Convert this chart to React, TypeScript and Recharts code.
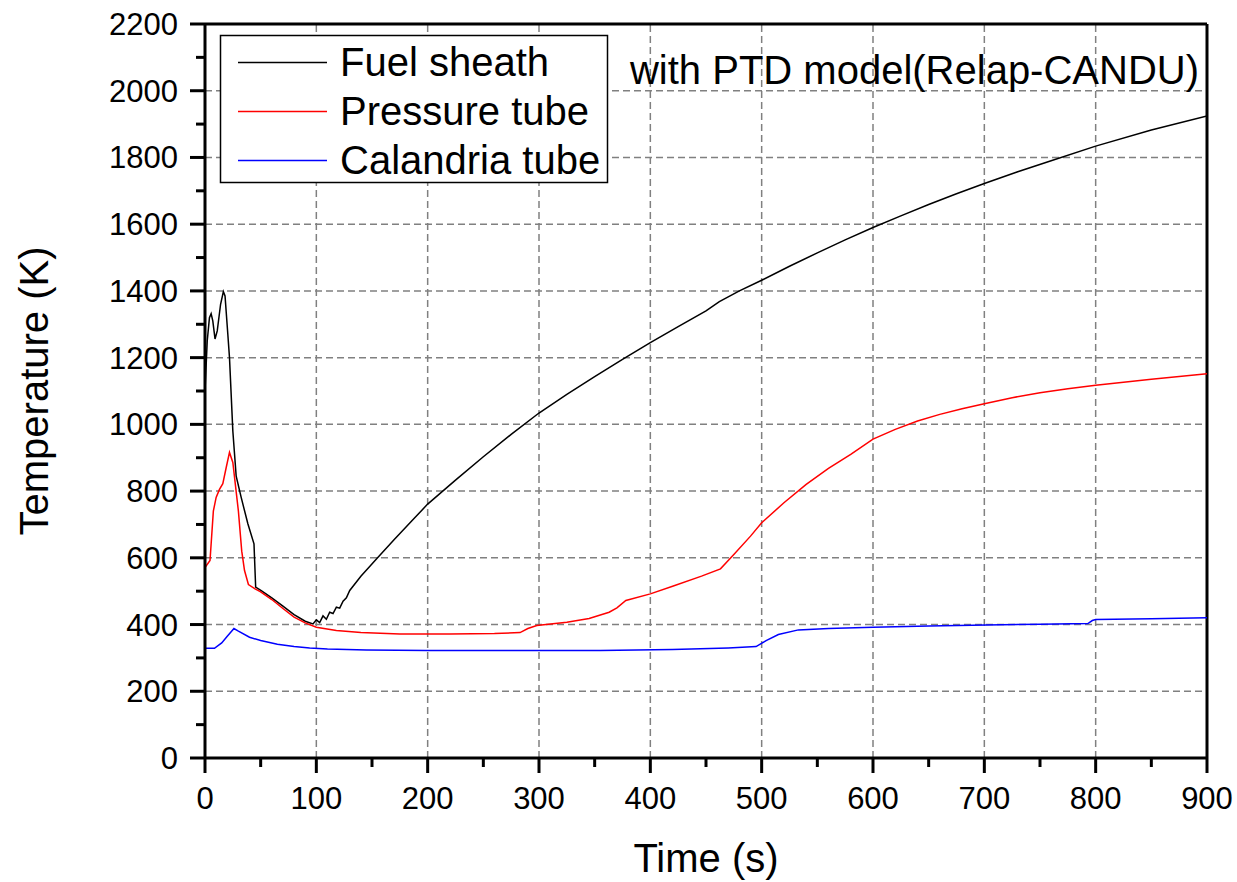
import React from 'react';
import { LineChart, Line, XAxis, YAxis, ReferenceLine, Legend, Label } from 'recharts';

const FONT = '"Liberation Sans", Arial, sans-serif';

// fuel sheath
const sheathTime = [0, 2, 4, 5.5, 7, 9, 11, 14, 16.5, 18, 20.5, 22, 25, 28, 32.5, 38.5, 44, 45.5, 50.5, 60, 70, 80, 90, 97, 100, 103, 106, 109, 112, 115, 118, 121, 124, 127, 130, 140, 155, 170, 185, 200, 225, 250, 275, 300, 325, 350, 375, 400, 425, 450, 462, 480, 500, 525, 550, 575, 600, 625, 650, 675, 700, 730, 760, 800, 850, 900];
const sheathTemp = [1100, 1250, 1320, 1332, 1310, 1256, 1280, 1360, 1398, 1385, 1270, 1200, 980, 845, 781, 702, 642, 512, 502, 480, 455, 430, 410, 402, 414, 406, 426, 416, 437, 433, 452, 449, 470, 480, 502, 545, 600, 655, 708, 761, 833, 903, 970, 1034, 1090, 1143, 1195, 1245, 1293, 1340, 1368, 1400, 1432, 1474, 1514, 1553, 1590, 1625, 1659, 1691, 1722, 1757, 1790, 1834, 1882, 1924];

// pressure tube
const ptTime = [0, 4.5, 7.5, 10, 13, 16, 19, 22, 25, 30, 33, 35.5, 39, 45, 50, 60, 70, 80, 90, 100, 118, 140, 175, 220, 260, 283, 290, 298, 325, 345, 363, 370, 378, 400, 420, 446, 463, 475, 490, 500, 520, 540, 560, 580, 600, 620, 640, 660, 680, 700, 725, 750, 775, 800, 850, 900];
const ptTemp = [571, 592, 740, 781, 805, 822, 870, 916, 886, 740, 620, 562, 520, 507, 498, 475, 448, 422, 405, 392, 382, 376, 372, 372, 373, 376, 388, 397, 407, 418, 437, 450, 472, 492, 515, 545, 567, 610, 665, 705, 765, 820, 868, 910, 956, 985, 1010, 1030, 1047, 1062, 1080, 1095, 1107, 1117, 1135, 1152];

// calandria tube
const ctTime = [0, 8.5, 15, 20, 26, 30, 40, 50, 65, 80, 94, 110, 145, 200, 300, 355, 420, 470, 495, 504, 515, 533, 560, 600, 650, 702, 750, 793, 797, 800, 850, 900];
const ctTemp = [329, 329, 345, 365, 388, 380, 362, 352, 341, 334, 330, 327, 324, 322, 322, 322, 325, 330, 334, 352, 370, 384, 388, 392, 396, 399, 401, 403, 412, 415, 417, 420];

const xMajor = [0, 100, 200, 300, 400, 500, 600, 700, 800, 900];
const xMinor = [50, 150, 250, 350, 450, 550, 650, 750, 850];
const yMajor = [0, 200, 400, 600, 800, 1000, 1200, 1400, 1600, 1800, 2000, 2200];
const yMinor = [100, 300, 500, 700, 900, 1100, 1300, 1500, 1700, 1900, 2100];

const seriesNames = ['Fuel sheath', 'Pressure tube', 'Calandria tube'];
const seriesColors = ['#000000', '#ff0000', '#0000ff'];
const subtitle = 'with PTD model(Relap-CANDU)';

const toPoints = (ts: number[], vs: number[]) => ts.map((t, i) => ({ t, v: vs[i] }));
const sheathData = toPoints(sheathTime, sheathTemp);
const ptData = toPoints(ptTime, ptTemp);
const ctData = toPoints(ctTime, ctTemp);

const XTick = (props: any) => {
  const { x, y, payload } = props;
  const major = xMajor.includes(payload.value);
  return (
    <g>
      <line x1={x} x2={x} y1={y} y2={y + (major ? 15 : 9)} stroke="#000" strokeWidth={3} />
      {major && (
        <text x={x} y={y + 51} textAnchor="middle" fontSize={31} fontFamily={FONT} fill="#000">
          {payload.value}
        </text>
      )}
    </g>
  );
};

const YTick = (props: any) => {
  const { x, y, payload } = props;
  const major = yMajor.includes(payload.value);
  return (
    <g>
      <line x1={x} x2={x - (major ? 15 : 9)} y1={y} y2={y} stroke="#000" strokeWidth={3} />
      {major && (
        <text x={x - 27} y={y + 11} textAnchor="end" fontSize={31} fontFamily={FONT} fill="#000">
          {payload.value}
        </text>
      )}
    </g>
  );
};

const Overlay = () => (
  <svg width={1237} height={882} style={{ display: 'block' }}>
    <rect x={220.5} y={35.5} width={387} height={147} fill="#fff" stroke="#000" strokeWidth={1.5} />
    {seriesNames.map((name, i) => (
      <g key={name}>
        <line x1={238} x2={327} y1={62.5 + i * 49} y2={62.5 + i * 49} stroke={seriesColors[i]} strokeWidth={1.5} />
        <text x={340} y={76 + i * 49} fontSize={40} fontFamily={FONT} fill="#000">{name}</text>
      </g>
    ))}
    <text x={1199} y={84} textAnchor="end" fontSize={40} fontFamily={FONT} fill="#000">{subtitle}</text>
  </svg>
);

export default function App() {
  return (
    <div style={{ position: 'absolute', left: 0, top: 0, width: 1237, height: 882, background: '#fff' }}>
      <LineChart width={1237} height={882} margin={{ top: 24, right: 30, left: 0, bottom: 0 }}>
        <XAxis
          type="number"
          dataKey="t"
          domain={[0, 900]}
          ticks={[...xMajor, ...xMinor].sort((a, b) => a - b)}
          interval={0}
          height={124}
          tickSize={0}
          tickMargin={0}
          tickLine={false}
          axisLine={{ stroke: '#000', strokeWidth: 3 }}
          tick={<XTick />}
          allowDataOverflow
        >
          <Label
            content={(p: any) => {
              const vb = p.viewBox;
              return (
                <text x={vb.x + vb.width / 2} y={vb.y + 114} textAnchor="middle" fontSize={40} fontFamily={FONT} fill="#000">
                  Time (s)
                </text>
              );
            }}
          />
        </XAxis>
        <YAxis
          type="number"
          domain={[0, 2200]}
          ticks={[...yMajor, ...yMinor].sort((a, b) => a - b)}
          interval={0}
          width={205}
          tickSize={0}
          tickMargin={0}
          tickLine={false}
          axisLine={{ stroke: '#000', strokeWidth: 3 }}
          tick={<YTick />}
          allowDataOverflow
        >
          <Label
            content={(p: any) => {
              const vb = p.viewBox;
              const cx = vb.x + 48;
              const cy = vb.y + vb.height / 2;
              return (
                <text x={cx} y={cy} transform={`rotate(-90, ${cx}, ${cy})`} textAnchor="middle" fontSize={40} fontFamily={FONT} fill="#000">
                  Temperature (K)
                </text>
              );
            }}
          />
        </YAxis>
        {xMajor.slice(1, -1).map(v => (
          <ReferenceLine key={'gx' + v} x={v} stroke="#808080" strokeWidth={1.5} strokeDasharray="7 4" />
        ))}
        {yMajor.slice(1, -1).map(v => (
          <ReferenceLine key={'gy' + v} y={v} stroke="#808080" strokeWidth={1.5} strokeDasharray="7 4" />
        ))}
        <ReferenceLine y={2200} stroke="#000" strokeWidth={3} />
        <ReferenceLine x={900} stroke="#000" strokeWidth={3} />
        <Line data={sheathData} dataKey="v" type="linear" stroke={seriesColors[0]} strokeWidth={1.5} dot={false} isAnimationActive={false} name={seriesNames[0]} />
        <Line data={ptData} dataKey="v" type="linear" stroke={seriesColors[1]} strokeWidth={1.5} dot={false} isAnimationActive={false} name={seriesNames[1]} />
        <Line data={ctData} dataKey="v" type="linear" stroke={seriesColors[2]} strokeWidth={1.5} dot={false} isAnimationActive={false} name={seriesNames[2]} />
        <Legend
          layout="horizontal"
          verticalAlign="middle"
          align="center"
          wrapperStyle={{ position: 'absolute', left: 0, top: 0, width: 1237, height: 882, pointerEvents: 'none' }}
          content={() => <Overlay />}
        />
      </LineChart>
    </div>
  );
}
